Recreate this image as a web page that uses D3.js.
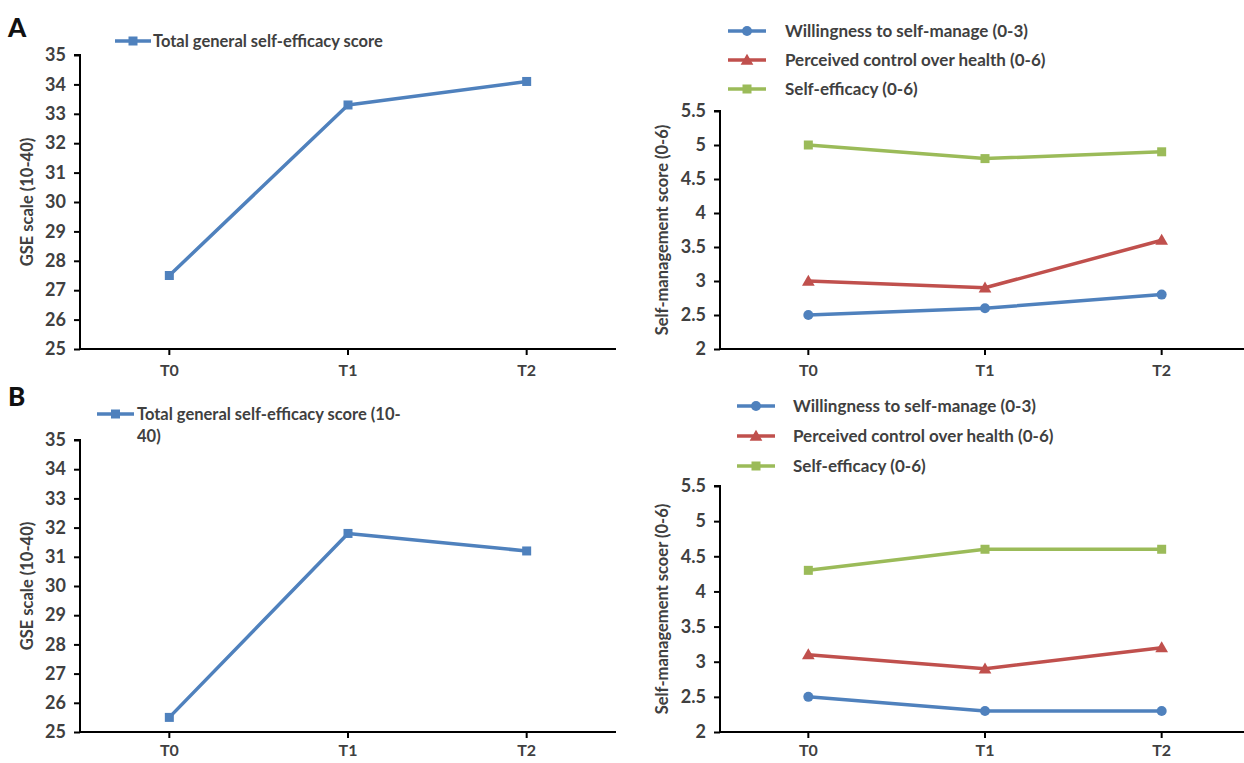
<!DOCTYPE html>
<html><head><meta charset="utf-8">
<script src="https://cdn.jsdelivr.net/npm/d3@7"></script>
<style>body{margin:0;background:#fff}svg{display:block}text{font-family:Lato,"Open Sans",sans-serif}</style>
</head><body><svg id="c" width="1244" height="763"></svg>
<script>
const timepoints = ["T0","T1","T2"];
const gseTicks = [25,26,27,28,29,30,31,32,33,34,35];
const smTicks = [2,2.5,3,3.5,4,4.5,5,5.5];
// Panel A
const gseA = [27.5,33.3,34.1];
const willA = [2.5,2.6,2.8];
const controlA = [3.0,2.9,3.6];
const effA = [5.0,4.8,4.9];
// Panel B
const gseB = [25.5,31.8,31.2];
const willB = [2.5,2.3,2.3];
const controlB = [3.1,2.9,3.2];
const effB = [4.3,4.6,4.6];

const BLUE="#4f81bd", RED="#c0504d", GREEN="#9bbb59", TXT="#404040";
const svg = d3.select("#c");

function marker(g, shape, x, y, color){
  if(shape==="square") g.append("rect").attr("x",x-4.5).attr("y",y-4.5).attr("width",9).attr("height",9).attr("fill",color);
  else if(shape==="circle") g.append("circle").attr("cx",x).attr("cy",y).attr("r",5).attr("fill",color);
  else g.append("path").attr("d",d3.symbol(d3.symbolTriangle,70)()).attr("transform",`translate(${x},${y+1})`).attr("fill",color);
}

function panel(o){
  const g = svg.append("g");
  const x = d3.scaleBand().domain(timepoints).range([o.x0,o.x1]);
  const y = d3.scaleLinear().domain(o.domain).range([o.yb,o.yt]);
  const ya = g.append("g").attr("transform",`translate(${o.x0},0)`)
    .call(d3.axisLeft(y).tickValues(o.ticks).tickSize(6).tickPadding(8).tickFormat(d3.format("")));
  ya.select(".domain").attr("stroke","#000").attr("stroke-width",2).attr("d",`M-6,${o.yt}H0V${o.yb}`);
  ya.selectAll(".tick line").attr("stroke","#000").attr("stroke-width",2);
  ya.selectAll("text").attr("fill",TXT).attr("font-size",18).attr("font-weight","bold");
  const xa = g.append("g").attr("transform",`translate(0,${o.yb})`)
    .call(d3.axisBottom(x).tickSize(6).tickPadding(o.xpad));
  xa.select(".domain").attr("stroke","#000").attr("stroke-width",2).attr("d",`M${o.x0},0H${o.x1}`);
  xa.selectAll(".tick line").attr("stroke","#000").attr("stroke-width",2);
  xa.selectAll("text").attr("fill",TXT).attr("font-size",16).attr("font-weight","bold");
  g.append("text").attr("transform",`translate(${o.titleX},${(o.yt+o.yb)/2}) rotate(-90)`)
    .attr("text-anchor","middle").attr("fill",TXT).attr("font-size",16.5).attr("font-weight","bold").text(o.title);
  const line = d3.line().x((d,i)=>x(timepoints[i])+x.bandwidth()/2).y(d=>y(d));
  o.series.forEach(s=>{
    g.append("path").datum(s.values).attr("d",line).attr("fill","none").attr("stroke",s.color).attr("stroke-width",3.5).attr("stroke-linejoin","round");
    s.values.forEach((v,i)=>marker(g,s.shape,x(timepoints[i])+x.bandwidth()/2,y(v),s.color));
  });
  o.legend.forEach((l,i)=>{
    const s=o.series[i];
    const ly=l.y;
    g.append("line").attr("x1",l.x).attr("x2",l.x+l.w).attr("y1",ly).attr("y2",ly).attr("stroke",s.color).attr("stroke-width",3.5);
    marker(g,s.shape,l.x+l.w/2,ly,s.color);
    const t=g.append("text").attr("x",l.tx).attr("y",ly+6).attr("fill",TXT).attr("font-size",l.fs||17).attr("font-weight","bold");
    s.label.forEach((ln,k)=>t.append("tspan").attr("x",l.tx).attr("dy",k?22:0).text(ln));
  });
}

svg.append("text").attr("x",8).attr("y",37).attr("font-size",26).attr("font-weight","900").attr("fill","#111").text("A");
svg.append("text").attr("x",8).attr("y",406).attr("font-size",26).attr("font-weight","900").attr("fill","#111").text("B");

panel({x0:80,x1:616,yt:55,yb:349,domain:[25,35],ticks:gseTicks,title:"GSE scale (10-40)",titleX:33,xpad:10,
  series:[{values:gseA,color:BLUE,shape:"square",label:["Total general self-efficacy score"]}],
  legend:[{x:115,w:36,y:41,tx:153,fs:16.5}]});
panel({x0:720,x1:1250,yt:111,yb:349,domain:[2,5.5],ticks:smTicks,title:"Self-management score (0-6)",titleX:668,xpad:10,
  series:[{values:willA,color:BLUE,shape:"circle",label:["Willingness to self-manage (0-3)"]},
          {values:controlA,color:RED,shape:"triangle",label:["Perceived control over health (0-6)"]},
          {values:effA,color:GREEN,shape:"square",label:["Self-efficacy (0-6)"]}],
  legend:[{x:728,w:38,y:31,tx:785},{x:728,w:38,y:60,tx:785},{x:728,w:38,y:89,tx:785}]});
panel({x0:80,x1:616,yt:440,yb:732,domain:[25,35],ticks:gseTicks,title:"GSE scale (10-40)",titleX:33,xpad:7,
  series:[{values:gseB,color:BLUE,shape:"square",label:["Total general self-efficacy score (10-","40)"]}],
  legend:[{x:97,w:37,y:414,tx:137,fs:16.5}]});
panel({x0:720,x1:1250,yt:486,yb:732,domain:[2,5.5],ticks:smTicks,title:"Self-management scoer (0-6)",titleX:668,xpad:7,
  series:[{values:willB,color:BLUE,shape:"circle",label:["Willingness to self-manage (0-3)"]},
          {values:controlB,color:RED,shape:"triangle",label:["Perceived control over health (0-6)"]},
          {values:effB,color:GREEN,shape:"square",label:["Self-efficacy (0-6)"]}],
  legend:[{x:737,w:38,y:406,tx:793},{x:737,w:38,y:436,tx:793},{x:737,w:38,y:466,tx:793}]});
</script></body></html>
